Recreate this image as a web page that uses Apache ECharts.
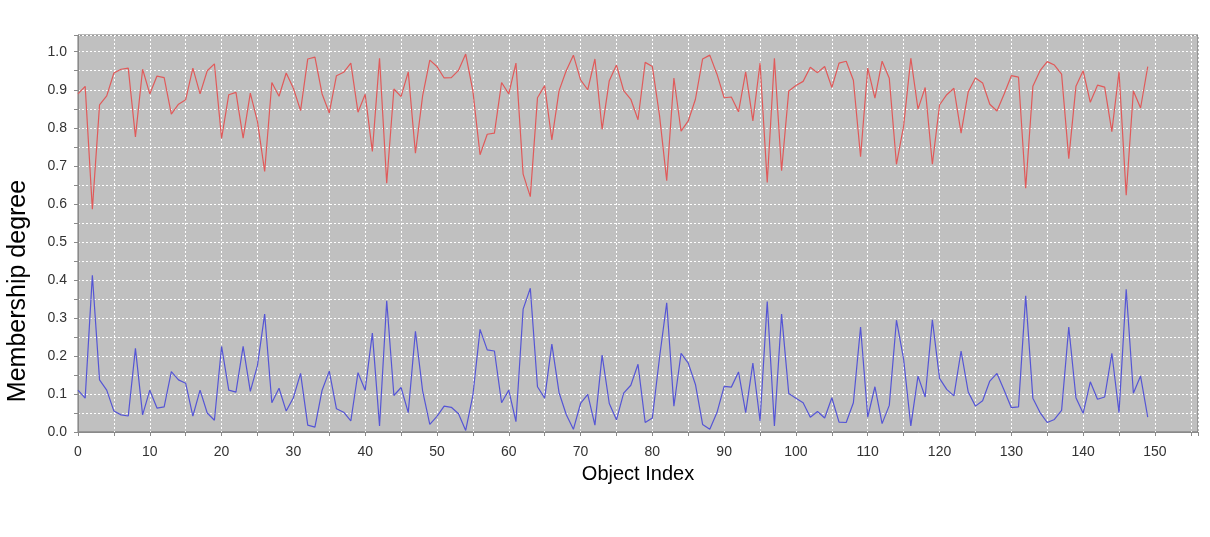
<!DOCTYPE html>
<html>
<head>
<meta charset="utf-8">
<script src="https://cdn.jsdelivr.net/npm/echarts@6/dist/echarts.min.js"></script>
<style>
html,body{margin:0;padding:0;background:#fff;}
#chart{width:1210px;height:537px;}
</style>
</head>
<body>
<div id="chart"></div>
<script>
// Membership degree of each object to two clusters
const objectIndex = Array.from({length: 150}, (_, i) => i);

const clusterA = [
  0.889,0.909,0.586,0.860,0.884,0.944,0.954,0.957,0.776,0.954,
  0.889,0.936,0.932,0.836,0.862,0.874,0.957,0.889,0.950,0.968,
  0.772,0.887,0.893,0.773,0.891,0.816,0.685,0.919,0.883,0.944,
  0.904,0.845,0.981,0.986,0.889,0.839,0.937,0.946,0.970,0.841,
  0.888,0.738,0.983,0.654,0.902,0.882,0.947,0.733,0.884,0.978,
  0.961,0.931,0.932,0.951,0.994,0.897,0.729,0.783,0.786,0.919,
  0.889,0.970,0.678,0.619,0.879,0.911,0.768,0.897,0.950,0.991,
  0.926,0.900,0.981,0.796,0.924,0.965,0.898,0.875,0.821,0.972,
  0.961,0.832,0.661,0.931,0.791,0.818,0.875,0.981,0.991,0.941,
  0.879,0.881,0.842,0.947,0.818,0.970,0.656,0.983,0.687,0.897,
  0.911,0.922,0.959,0.945,0.961,0.906,0.970,0.975,0.925,0.724,
  0.957,0.878,0.975,0.930,0.704,0.805,0.983,0.849,0.906,0.704,
  0.860,0.887,0.904,0.786,0.895,0.931,0.918,0.862,0.844,0.889,
  0.937,0.933,0.641,0.909,0.950,0.974,0.965,0.941,0.719,0.909,
  0.950,0.867,0.912,0.907,0.790,0.948,0.623,0.897,0.852,0.961
];

const clusterB = [
  0.110,0.089,0.412,0.137,0.110,0.055,0.045,0.042,0.220,0.045,
  0.110,0.063,0.066,0.159,0.137,0.128,0.042,0.110,0.050,0.031,
  0.225,0.110,0.105,0.225,0.107,0.175,0.310,0.077,0.115,0.055,
  0.090,0.154,0.018,0.013,0.110,0.160,0.061,0.052,0.029,0.156,
  0.110,0.260,0.016,0.345,0.096,0.117,0.051,0.265,0.108,0.020,
  0.041,0.068,0.065,0.048,0.004,0.096,0.270,0.216,0.213,0.077,
  0.110,0.027,0.323,0.378,0.119,0.089,0.231,0.104,0.046,0.007,
  0.075,0.099,0.018,0.202,0.075,0.032,0.102,0.123,0.178,0.025,
  0.037,0.196,0.340,0.068,0.207,0.181,0.125,0.020,0.007,0.051,
  0.120,0.118,0.158,0.051,0.181,0.029,0.343,0.016,0.310,0.101,
  0.089,0.077,0.039,0.054,0.037,0.090,0.026,0.025,0.077,0.276,
  0.039,0.119,0.022,0.070,0.294,0.191,0.016,0.147,0.092,0.295,
  0.141,0.112,0.095,0.213,0.105,0.068,0.082,0.134,0.154,0.110,
  0.064,0.066,0.358,0.089,0.051,0.025,0.033,0.057,0.276,0.090,
  0.049,0.132,0.086,0.092,0.207,0.051,0.375,0.102,0.147,0.039
];

const xTickLabels = ['0','10','20','30','40','50','60','70','80','90','100','110','120','130','140','150'];
const yTickLabels = ['0.0','0.1','0.2','0.3','0.4','0.5','0.6','0.7','0.8','0.9','1.0'];

const FONT = '"Liberation Sans", Arial, sans-serif';
const chart = echarts.init(document.getElementById('chart'), null, {renderer: 'canvas'});

function pairs(arr) { return objectIndex.map((x, i) => [x, arr[i]]); }

const gridLine = {show: true, lineStyle: {color: '#ffffff', type: [2, 2], width: 1}};

chart.setOption({
  animation: false,
  backgroundColor: '#ffffff',
  grid: {
    left: 78, top: 35, right: 12, bottom: 105,
    show: true, backgroundColor: '#c0c0c0', borderColor: '#707070', borderWidth: 1
  },
  xAxis: {
    type: 'value', min: 0, max: 156, interval: 5, offset: 4,
    axisLine: {show: true, lineStyle: {color: '#8a8a8a', width: 1}},
    axisTick: {show: true, length: 4, lineStyle: {color: '#8a8a8a'}},
    axisLabel: {
      fontFamily: FONT, fontSize: 14, color: '#333', margin: 9,
      formatter: v => { const s = String(Math.round(v)); return (Math.abs(v - Math.round(v)) < 1e-6 && xTickLabels.includes(s)) ? s : ''; }
    },
    splitLine: gridLine,
    name: 'Object Index', nameLocation: 'middle', nameGap: 28,
    nameTextStyle: {fontFamily: FONT, fontSize: 20, color: '#000'}
  },
  yAxis: {
    type: 'value', min: 0, max: 1.044, interval: 0.05, offset: 5,
    axisLine: {show: true, lineStyle: {color: '#8a8a8a', width: 1}},
    axisTick: {show: true, length: 4, lineStyle: {color: '#8a8a8a'}},
    axisLabel: {
      fontFamily: FONT, fontSize: 14, color: '#333', margin: 6,
      formatter: v => { const s = v.toFixed(1); return (Math.abs(v * 10 - Math.round(v * 10)) < 1e-6 && yTickLabels.includes(s)) ? s : ''; }
    },
    splitLine: gridLine
  },
  graphic: [{
    type: 'text', x: 18, y: 291, rotation: Math.PI / 2,
    style: {text: 'Membership degree', font: '25px ' + FONT, fill: '#000', align: 'center', verticalAlign: 'middle'}
  }],
  series: [
    {name: 'Cluster 1', type: 'line', data: pairs(clusterA), showSymbol: false, symbol: 'none',
     lineStyle: {color: '#e05a5a', width: 1.2}, itemStyle: {color: '#e05a5a'}},
    {name: 'Cluster 2', type: 'line', data: pairs(clusterB), showSymbol: false, symbol: 'none',
     lineStyle: {color: '#5555d5', width: 1.2}, itemStyle: {color: '#5555d5'}}
  ]
});
</script>
</body>
</html>
